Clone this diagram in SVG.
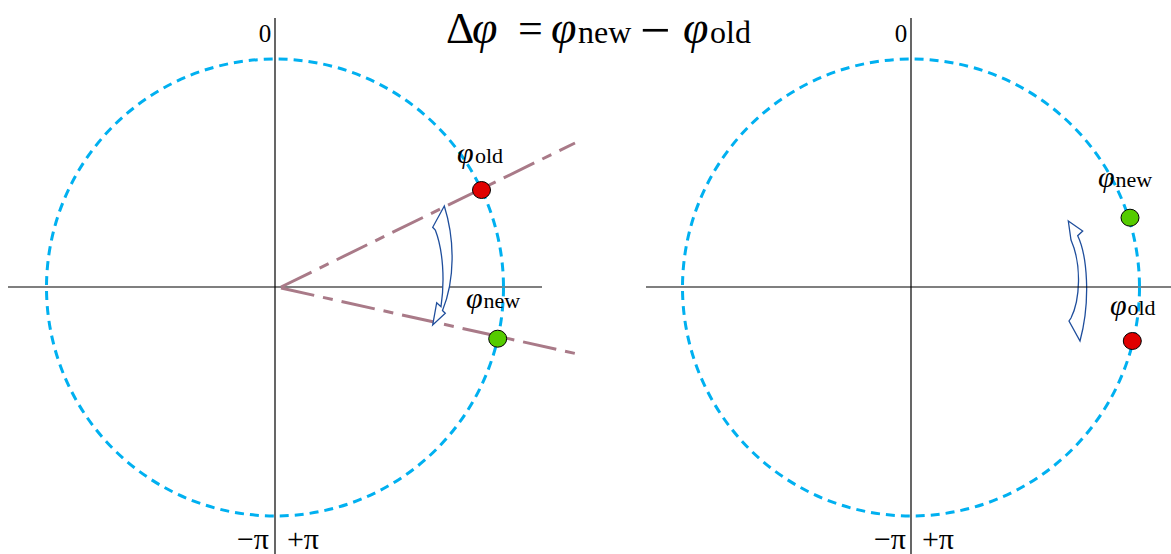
<svg xmlns="http://www.w3.org/2000/svg" width="1171" height="554" viewBox="0 0 1171 554">
<style>
.t{font-family:"Liberation Serif","DejaVu Serif",serif;fill:#000}
.it{font-style:italic}
.axis{stroke:#000;stroke-width:1.2;fill:none}
.circ{fill:none;stroke:#00b0f0;stroke-width:3;stroke-dasharray:9 6}
.ray{stroke:#a97a88;stroke-width:3;stroke-dasharray:34 9 10 9;fill:none}
.arr{fill:#fff;stroke:#1f4e9c;stroke-width:1.3;stroke-linejoin:miter}
.red{fill:#e00000;stroke:#000;stroke-width:1}
.grn{fill:#55cc00;stroke:#000;stroke-width:1}
</style>
<rect width="1171" height="554" fill="#fff"/>
<g id="title">
<text class="t" y="43" font-size="44"><tspan x="446">Δ</tspan><tspan class="it" x="472" font-size="46">φ</tspan><tspan x="518">=</tspan><tspan class="it" x="551" font-size="46">φ</tspan><tspan x="578" font-size="32">new</tspan></text>
<text class="t" y="48" font-size="54" x="640">−</text>
<text class="t" y="43" font-size="44"><tspan class="it" x="683" font-size="46">φ</tspan><tspan x="710" font-size="32">old</tspan></text>
</g>
<g id="left-axes">
<line class="axis" x1="275" y1="18" x2="275" y2="554"/>
<line class="axis" x1="8" y1="287" x2="542" y2="287"/>
<text class="t" x="265" y="42" font-size="25" text-anchor="middle">0</text>
<text class="t" x="253" y="549" font-size="30" text-anchor="middle">−π</text>
<text class="t" x="303" y="549" font-size="30" text-anchor="middle">+π</text>
</g>
<g id="left-circle">
<circle class="circ" cx="275" cy="287.5" r="228.5"/>
</g>
<g id="connectors">
<line class="ray" x1="281" y1="287" x2="575" y2="143"/>
<line class="ray" x1="281" y1="288" x2="582" y2="355"/>
<path class="arr" d="M444.3,206 L432.7,227.3 L435.3,230 C443,250 445,280 441,306.7 L436.7,302.7 L432.7,325 L445.3,313.3 L442.5,310.5 C455,280 455,240 444.3,206 Z"/>
<path class="arr" d="M1068.3,221 L1082.7,231 L1077.7,235.7 C1087,255 1091,300 1080,341 L1069,321 L1071,318 C1080,300 1082,265 1071,240 Z"/>
</g>
<g id="left-old">
<ellipse class="red" cx="481.5" cy="190" rx="9" ry="8.5"/>
<text class="t" y="163"><tspan class="it" x="457" font-size="30">φ</tspan><tspan x="475" font-size="22">old</tspan></text>
</g>
<g id="left-new">
<ellipse class="grn" cx="497.7" cy="338.7" rx="9" ry="8.5"/>
<text class="t" y="308"><tspan class="it" x="466" font-size="30">φ</tspan><tspan x="483.5" font-size="22">new</tspan></text>
</g>
<g id="right-axes">
<line class="axis" x1="911" y1="18" x2="911" y2="554"/>
<line class="axis" x1="646" y1="287" x2="1171" y2="287"/>
<text class="t" x="901" y="42" font-size="25" text-anchor="middle">0</text>
<text class="t" x="890" y="549" font-size="30" text-anchor="middle">−π</text>
<text class="t" x="938" y="549" font-size="30" text-anchor="middle">+π</text>
</g>
<g id="right-circle">
<circle class="circ" cx="911" cy="287.5" r="228.5"/>
</g>
<g id="right-new">
<ellipse class="grn" cx="1130" cy="217.7" rx="9" ry="8.5"/>
<text class="t" y="187"><tspan class="it" x="1098" font-size="30">φ</tspan><tspan x="1115.5" font-size="22">new</tspan></text>
</g>
<g id="right-old">
<ellipse class="red" cx="1132.3" cy="341" rx="9" ry="8.5"/>
<text class="t" y="315"><tspan class="it" x="1110" font-size="30">φ</tspan><tspan x="1127.5" font-size="22">old</tspan></text>
</g>
</svg>
